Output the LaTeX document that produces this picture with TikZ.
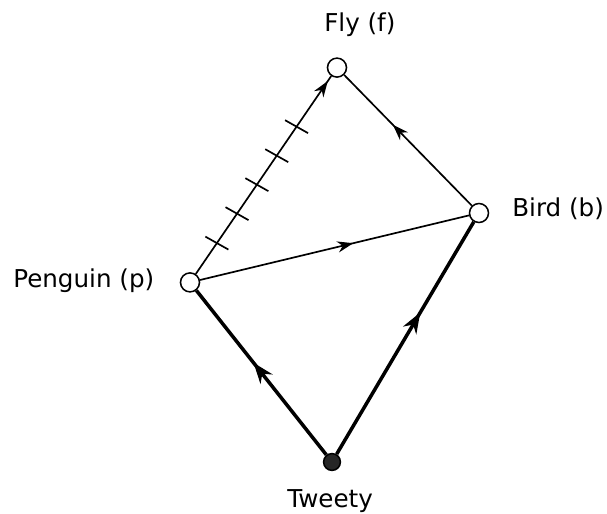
\documentclass[tikz,border=0pt]{standalone}
\usepackage{fontspec}
\setmainfont{DejaVu Sans}
\usetikzlibrary{arrows.meta,calc,decorations.markings}

\begin{document}
\begin{tikzpicture}[>={Stealth[length=4mm,width=2.8mm]},
  state/.style={circle,draw,line width=1.1pt,fill=white,minimum size=4.75mm,inner sep=0pt},
  lab/.style={anchor=base west,inner sep=0pt,font=\fontsize{17.5}{21}\selectfont},
  thin edge/.style={line width=1.2pt},
  thick edge/.style={line width=2.5pt,>={Stealth[length=5.2mm,width=3.8mm]}},
  midarrow/.style={postaction={decorate},
    decoration={markings,mark=at position #1 with {\arrow{>}}}}]
  \useasboundingbox (0,0) rectangle (15.175,-12.85);
  % nodes
  \node[state] (f) at (8.425,-1.69) {};
  \node[state] (b) at (11.975,-5.325) {};
  \node[state] (p) at (4.75,-7.06) {};
  \node[state,fill=black!85,minimum size=4.2mm] (t) at (8.3,-11.55) {};
  \node[lab] (flab) at (8.1,-0.79) {Fly (f)};
  \node[lab] (blab) at (12.8,-5.42) {Bird (b)};
  \node[lab] (plab) at (0.325,-7.2) {Penguin (p)};
  \node[lab] (tlab) at (7.175,-12.7) {Tweety};
  % thin links
  \draw[thin edge,midarrow=0.975] (p) -- (f);
  \draw[thin edge,midarrow=0.62] (b) -- (f);
  \draw[thin edge,midarrow=0.57] (p) -- (b);
  % negated link
  \foreach \t in {0.183,0.32,0.455,0.59,0.725}
    {\coordinate (tk) at ($(p)!\t!(f)$);
     \draw[thin edge] ($(tk)!0.33cm!95:(f)$) -- ($(tk)!0.33cm!-85:(f)$);}
  % thick links
  \draw[thick edge,midarrow=0.56] (t) -- (p);
  \draw[thick edge,midarrow=0.61] (t) -- (b);
\end{tikzpicture}
\end{document}
